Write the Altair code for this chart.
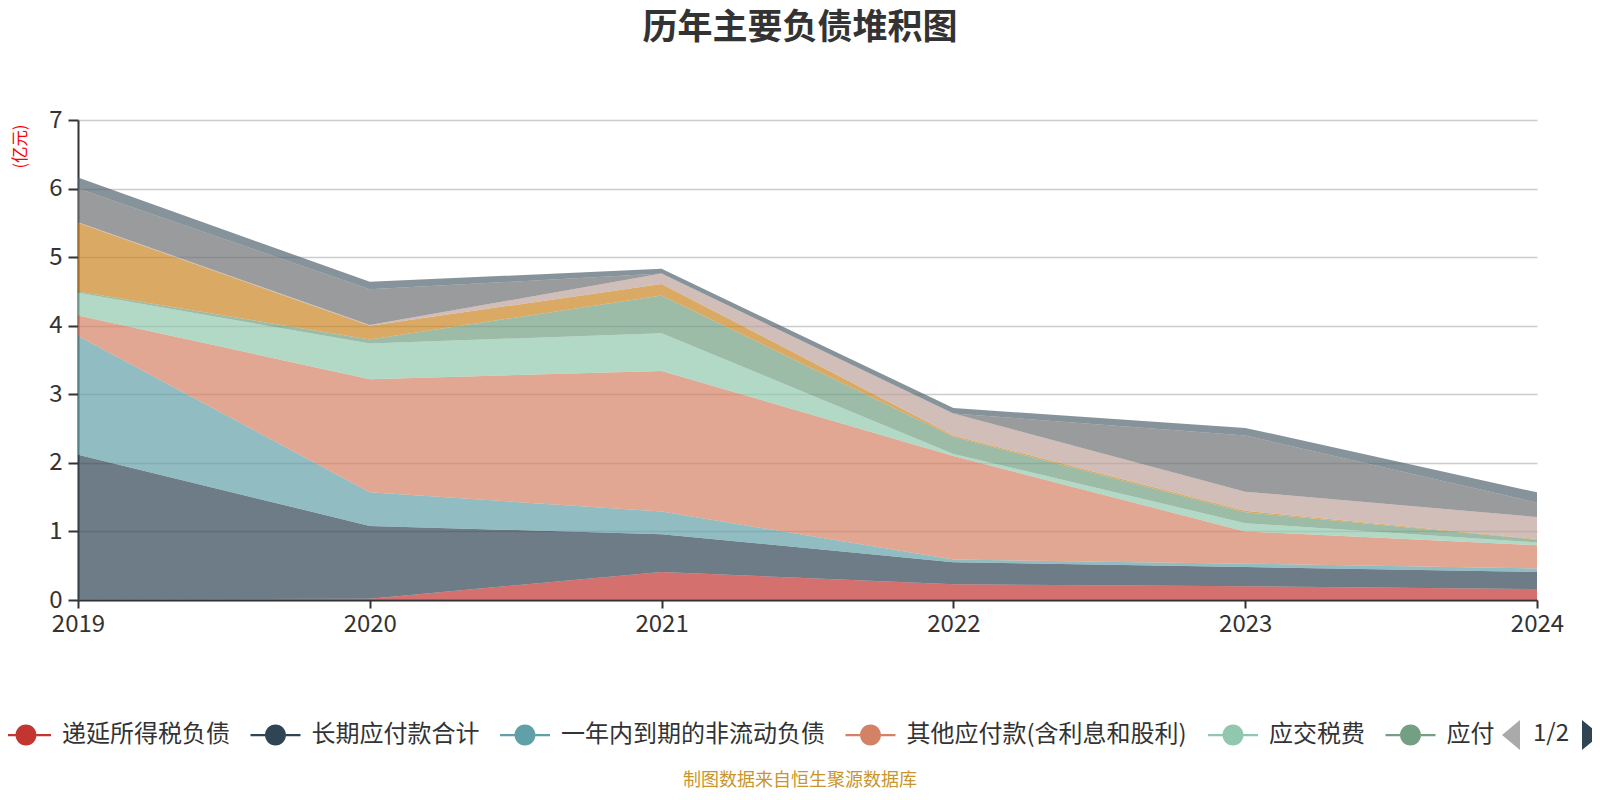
import altair as alt
import pandas as pd

years = ["2019", "2020", "2021", "2022", "2023", "2024"]
names = [
    "递延所得税负债",
    "长期应付款合计",
    "一年内到期的非流动负债",
    "其他应付款(含利息和股利)",
    "应交税费",
    "应付职工薪酬",
    "应付账款",
    "合同负债",
    "短期借款",
    "其他流动负债",
]
colors = ["#c23531", "#2f4554", "#61a0a8", "#d48265", "#91c7ae",
          "#749f83", "#ca8622", "#bda29a", "#6e7074", "#546570"]

deferred_tax = [0.01, 0.02, 0.41, 0.23, 0.20, 0.16]
long_payable = [2.11, 1.06, 0.55, 0.32, 0.28, 0.25]
current_noncurrent = [1.73, 0.49, 0.33, 0.04, 0.05, 0.05]
other_payable = [0.30, 1.65, 2.05, 1.51, 0.47, 0.34]
tax_payable = [0.33, 0.52, 0.55, 0.03, 0.12, 0.04]
staff_payable = [0.02, 0.06, 0.55, 0.25, 0.16, 0.04]
accounts_payable = [1.00, 0.20, 0.17, 0.02, 0.02, 0.01]
contract_liab = [0.01, 0.01, 0.15, 0.32, 0.28, 0.32]
short_loans = [0.49, 0.52, 0.00, 0.00, 0.82, 0.21]
other_current = [0.16, 0.11, 0.07, 0.08, 0.11, 0.15]

series = [deferred_tax, long_payable, current_noncurrent, other_payable, tax_payable,
          staff_payable, accounts_payable, contract_liab, short_loans, other_current]

title_text = "历年主要负债堆积图"
footer_text = "制图数据来自恒生聚源数据库"
unit_text = "(亿元)"
pager_text = "1/2"
y_ticks = [0, 1, 2, 3, 4, 5, 6, 7]

rows = []
for i, (n, vals) in enumerate(zip(names, series)):
    for yr, v in zip(years, vals):
        rows.append({"year": yr, "name": n, "idx": i, "value": v})
df = pd.DataFrame(rows)

FONT = "Noto Sans CJK SC"
SYMBOL = ("M-1,-0.045L-0.42,-0.045L-0.42,0.045L-1,0.045Z "
          "M0.42,-0.045L1,-0.045L1,0.045L0.42,0.045Z "
          "M0.42,0A0.42,0.42,0,1,1,-0.42,0A0.42,0.42,0,1,1,0.42,0Z")

legend = alt.Legend(
    title=None, values=names[:6], orient="none", legendX=-77, legendY=590,
    direction="horizontal", columns=6, symbolType=SYMBOL, symbolSize=2500,
    symbolStrokeWidth=0, symbolOpacity=1, labelFont=FONT, labelFontSize=24,
    labelColor="#333333", labelOffset=11, columnPadding=20.5, padding=0,
    labelLimit=600,
    labelExpr="datum.label == '应付职工薪酬' ? '应付' : datum.label",
)

areas = alt.Chart(df).mark_area(interpolate="linear").encode(
    x=alt.X("year:O", scale=alt.Scale(type="point", padding=0),
            axis=alt.Axis(title=None, labelAngle=0, labelFont=FONT, labelFontSize=24,
                          labelColor="#333333", domainColor="#333333", domainWidth=2,
                          tickColor="#333333", tickWidth=2, tickSize=8, labelPadding=4,
                          grid=False)),
    y=alt.Y("value:Q", stack="zero", scale=alt.Scale(domain=[0, 7], nice=False),
            axis=alt.Axis(title=unit_text, values=y_ticks, grid=True, gridColor="#cccccc",
                          gridWidth=1.5, domainColor="#333333", domainWidth=2,
                          tickColor="#333333", tickWidth=2, tickSize=10, labelPadding=6,
                          labelFont=FONT, labelFontSize=24, labelColor="#333333",
                          titleColor="#ff0000", titleFont=FONT, titleFontSize=16.5,
                          titleFontWeight="normal", titleX=-58, titleY=26, titleAngle=270,
                          titleAlign="center", titleBaseline="middle")),
    color=alt.Color("name:N", scale=alt.Scale(domain=names, range=colors), legend=legend),
    order=alt.Order("idx:Q", sort="ascending"),
    opacity=alt.value(0.7),
)


def txt(text, x, y, size, color, weight="normal"):
    return alt.Chart(pd.DataFrame({"t": [text]})).mark_text(
        font=FONT, fontSize=size, color=color, fontWeight=weight,
        align="center", baseline="middle"
    ).encode(x=alt.value(x), y=alt.value(y), text="t:N")


def tri(path, x, y, color):
    return alt.Chart(pd.DataFrame({"t": [0]})).mark_point(
        shape=path, size=900, filled=True, color=color, opacity=1, strokeWidth=0
    ).encode(x=alt.value(x), y=alt.value(y))


title = txt(title_text, 722, -92, 35, "#333333", "bold")
footer = txt(footer_text, 722, 661, 18, "#c9952c")
pager = txt(pager_text, 1473, 614, 24, "#333333")
left_arrow = tri("M0.6,-1L0.6,1L-0.6,0Z", 1433, 615, "#aaaaaa")
right_arrow = tri("M-0.6,-1L-0.6,1L0.6,0Z", 1513, 615, "#2f4554")

chart = alt.layer(areas, title, footer, pager, left_arrow, right_arrow).properties(
    width=1459, height=480,
    padding={"left": 70, "top": 112, "right": 55, "bottom": 192},
    autosize=alt.AutoSizeParams(type="none"),
).configure_view(stroke=None)

chart.save("out.html", embed_options={"renderer": "svg", "actions": False})
